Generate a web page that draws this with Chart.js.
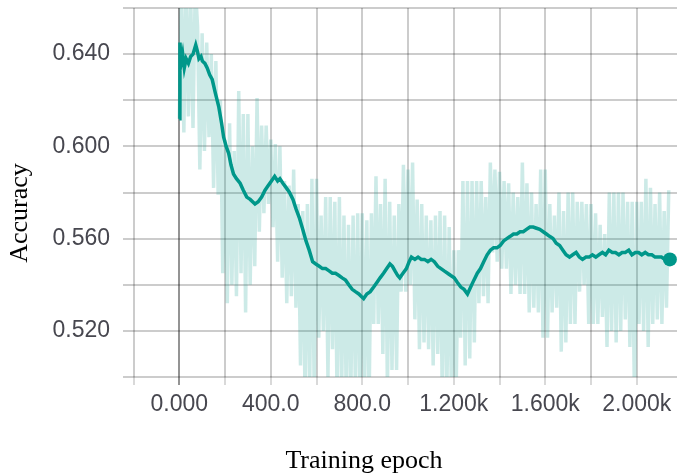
<!DOCTYPE html>
<html>
<head>
<meta charset="utf-8">
<script src="https://cdn.jsdelivr.net/npm/chart.js@4"></script>
<style>
  body { margin: 0; background: #fff; }
  canvas { display: block; }
</style>
</head>
<body>
<canvas id="accChart" width="684" height="475"></canvas>
<script>
// Raw accuracy, one value logged every 10 epochs (rows = 100 epochs)
const RAW_STEP = 10;
const rawAcc = [
  0.612, 0.668, 0.606, 0.672, 0.613, 0.665, 0.608, 0.670, 0.652, 0.590,
  0.649, 0.598, 0.645, 0.604, 0.640, 0.582, 0.637, 0.579, 0.620, 0.545,
  0.603, 0.532, 0.610, 0.540, 0.598, 0.535, 0.624, 0.545, 0.614, 0.528,
  0.614, 0.540, 0.600, 0.548, 0.621, 0.563, 0.609, 0.571, 0.609, 0.575,
  0.603, 0.565, 0.601, 0.550, 0.600, 0.543, 0.585, 0.532, 0.583, 0.535,
  0.590, 0.530, 0.575, 0.505, 0.572, 0.490, 0.575, 0.495, 0.586, 0.492,
  0.586, 0.517, 0.570, 0.520, 0.578, 0.500, 0.578, 0.512, 0.576, 0.490,
  0.578, 0.495, 0.570, 0.490, 0.566, 0.492, 0.570, 0.495, 0.571, 0.490,
  0.571, 0.493, 0.568, 0.490, 0.571, 0.523, 0.587, 0.523, 0.575, 0.510,
  0.586, 0.495, 0.576, 0.503, 0.570, 0.503, 0.575, 0.537, 0.592, 0.537,
  0.590, 0.540, 0.593, 0.525, 0.577, 0.512, 0.575, 0.515, 0.570, 0.512,
  0.568, 0.505, 0.570, 0.510, 0.572, 0.490, 0.570, 0.495, 0.565, 0.490,
  0.555, 0.492, 0.555, 0.517, 0.585, 0.505, 0.585, 0.508, 0.585, 0.515,
  0.585, 0.532, 0.585, 0.535, 0.578, 0.532, 0.593, 0.554, 0.590, 0.550,
  0.589, 0.547, 0.585, 0.547, 0.584, 0.536, 0.580, 0.540, 0.578, 0.536,
  0.593, 0.536, 0.584, 0.528, 0.580, 0.530, 0.575, 0.528, 0.590, 0.517,
  0.590, 0.517, 0.575, 0.528, 0.570, 0.530, 0.580, 0.511, 0.572, 0.515,
  0.580, 0.523, 0.580, 0.523, 0.576, 0.537, 0.576, 0.540, 0.575, 0.523,
  0.575, 0.523, 0.571, 0.523, 0.566, 0.526, 0.562, 0.513, 0.580, 0.520,
  0.580, 0.515, 0.580, 0.520, 0.580, 0.525, 0.576, 0.513, 0.576, 0.490,
  0.576, 0.523, 0.576, 0.520, 0.586, 0.513, 0.582, 0.523, 0.575, 0.525,
  0.580, 0.523, 0.572, 0.530, 0.581
];

// Smoothed curve
const smoothEpochs = [
  0, 3, 8, 15, 22, 30, 40, 50, 60, 72, 80, 86, 95, 101, 112, 122, 133, 144, 158, 173,
  185, 194, 205, 216, 226, 237, 250, 266, 280, 295, 310, 331, 345, 360, 375, 389, 403, 417, 430, 440,
  453, 468, 482, 497, 510, 525, 540, 554, 568, 583, 597, 612, 626, 640, 655, 669, 683, 698, 712, 727,
  741, 756, 770, 785, 795, 806, 820, 835, 850, 864, 878, 893, 907, 921, 932, 943, 955, 964, 978, 993,
  1005, 1015, 1030, 1044, 1058, 1072, 1087, 1101, 1115, 1130, 1144, 1158, 1173, 1187, 1202, 1216, 1231, 1245, 1260, 1274,
  1288, 1303, 1317, 1331, 1346, 1360, 1374, 1389, 1403, 1418, 1432, 1447, 1461, 1476, 1490, 1504, 1518, 1533, 1547, 1562,
  1576, 1591, 1605, 1619, 1634, 1648, 1663, 1677, 1691, 1706, 1720, 1735, 1749, 1763, 1778, 1792, 1806, 1821, 1835, 1850,
  1864, 1878, 1893, 1907, 1922, 1936, 1950, 1965, 1979, 1994, 2008, 2022, 2037, 2051, 2066, 2080, 2094, 2108, 2123, 2137,
  2145
];
const smoothAcc = [
  0.612, 0.645, 0.636, 0.640, 0.634, 0.638, 0.636, 0.639, 0.640, 0.644, 0.641, 0.638, 0.639, 0.637, 0.636, 0.634, 0.631, 0.629, 0.623, 0.617,
  0.610, 0.604, 0.600, 0.597, 0.592, 0.588, 0.586, 0.584, 0.581, 0.578, 0.577, 0.575, 0.576, 0.578, 0.581, 0.583, 0.585, 0.587, 0.585, 0.586,
  0.584, 0.582, 0.580, 0.577, 0.573, 0.569, 0.564, 0.559, 0.555, 0.550, 0.549, 0.548, 0.547, 0.547, 0.546, 0.545, 0.545, 0.544, 0.543, 0.542,
  0.540, 0.538, 0.537, 0.536, 0.535, 0.534, 0.536, 0.537, 0.539, 0.541, 0.543, 0.545, 0.547, 0.549, 0.548, 0.546, 0.544, 0.543, 0.545, 0.547,
  0.550, 0.552, 0.551, 0.552, 0.551, 0.551, 0.550, 0.551, 0.550, 0.548, 0.547, 0.546, 0.545, 0.544, 0.543, 0.541, 0.539, 0.538, 0.536, 0.539,
  0.542, 0.545, 0.547, 0.550, 0.553, 0.555, 0.556, 0.556, 0.557, 0.559, 0.560, 0.561, 0.562, 0.562, 0.563, 0.563, 0.564, 0.565, 0.565, 0.5645,
  0.564, 0.563, 0.562, 0.561, 0.560, 0.558, 0.557, 0.555, 0.553, 0.552, 0.553, 0.554, 0.552, 0.551, 0.552, 0.552, 0.553, 0.552, 0.553, 0.554,
  0.553, 0.555, 0.554, 0.554, 0.553, 0.554, 0.554, 0.555, 0.553, 0.554, 0.554, 0.553, 0.554, 0.553, 0.553, 0.552, 0.552, 0.552, 0.551, 0.551,
  0.551
];

// Axes
const X_MIN = -246;
const X_MAX = 2176;
const xTickValues = [-200, 0, 200, 400, 600, 800, 1000, 1200, 1400, 1600, 1800, 2000];
const xTickLabels = ['', '0.000', '', '400.0', '', '800.0', '', '1.200k', '', '1.600k', '', '2.000k'];
const Y_MIN = 0.50;
const Y_MAX = 0.66;
const yTickValues = [0.50, 0.52, 0.54, 0.56, 0.58, 0.60, 0.62, 0.64, 0.66];
const yTickLabels = ['', '0.520', '', '0.560', '', '0.600', '', '0.640', ''];

const TEAL = '#00978a';
const GRID = 'rgba(0,0,0,0.2)';
const GRID_ZERO = 'rgba(0,0,0,0.42)';
const TICK_FONT = { family: '"Liberation Sans", Arial, sans-serif', size: 23 };

const rawPoints = rawAcc.map((v, i) => ({ x: i * RAW_STEP, y: v }));
const smoothPoints = smoothEpochs.map((e, i) => ({ x: e, y: smoothAcc[i] }));

// Axis titles in serif, placed like the figure
const axisTitles = {
  id: 'axisTitles',
  afterDraw(chart) {
    const c = chart.ctx;
    c.save();
    c.fillStyle = '#000';
    c.font = '26px "Liberation Serif", "Times New Roman", serif';
    c.textAlign = 'center';
    c.textBaseline = 'alphabetic';
    c.fillText('Training epoch', 364, 468);
    c.translate(27, 213);
    c.rotate(-Math.PI / 2);
    c.fillText('Accuracy', 0, 0);
    c.restore();
  }
};

function noPadding(s) {
  s.paddingTop = 0;
  s.paddingBottom = 0;
  s.paddingLeft = 0;
  s.paddingRight = 0;
}

const ctx = document.getElementById('accChart').getContext('2d');
const chart = new Chart(ctx, {
  type: 'line',
  data: {
    datasets: [
      {
        label: 'Accuracy (smoothed)',
        data: smoothPoints,
        borderColor: TEAL,
        backgroundColor: TEAL,
        borderWidth: 3.5,
        pointRadius: c => (c.dataIndex === smoothPoints.length - 1 ? 7 : 0),
        pointBorderWidth: 0,
        pointBackgroundColor: TEAL,
        tension: 0,
        clip: false,
        order: 1
      },
      {
        label: 'Accuracy (raw)',
        data: rawPoints,
        borderColor: 'rgba(0,150,136,0.2)',
        borderWidth: 3.5,
        borderJoinStyle: 'bevel',
        pointRadius: 0,
        tension: 0,
        clip: 0,
        order: 2
      }
    ]
  },
  options: {
    responsive: false,
    animation: false,
    events: [],
    layout: { padding: { top: 8, right: 0, left: 0, bottom: 0 } },
    plugins: {
      legend: { display: false },
      tooltip: { enabled: false }
    },
    scales: {
      x: {
        type: 'linear',
        min: X_MIN,
        max: X_MAX,
        afterBuildTicks: s => { s.ticks = xTickValues.map(v => ({ value: v })); },
        afterFit: s => { s.height = 98; noPadding(s); },
        border: { display: false },
        grid: {
          color: c => (c.tick && c.tick.value === 0 ? GRID_ZERO : GRID),
          lineWidth: 2,
          drawTicks: true,
          tickLength: 8,
          tickColor: c => (c.tick && c.tick.value === 0 ? GRID_ZERO : 'rgba(0,0,0,0.15)')
        },
        ticks: {
          autoSkip: false,
          maxRotation: 0,
          padding: 6,
          color: '#47474f',
          font: TICK_FONT,
          callback: (v, i) => xTickLabels[i]
        }
      },
      y: {
        min: Y_MIN,
        max: Y_MAX,
        afterBuildTicks: s => { s.ticks = yTickValues.map(v => ({ value: v })); },
        afterFit: s => { s.width = 123; noPadding(s); },
        border: { display: false },
        grid: { color: GRID, lineWidth: 2, drawTicks: false },
        ticks: {
          padding: 13,
          color: '#47474f',
          font: TICK_FONT,
          callback: (v, i) => yTickLabels[i]
        }
      }
    }
  },
  plugins: [axisTitles]
});
</script>
</body>
</html>
